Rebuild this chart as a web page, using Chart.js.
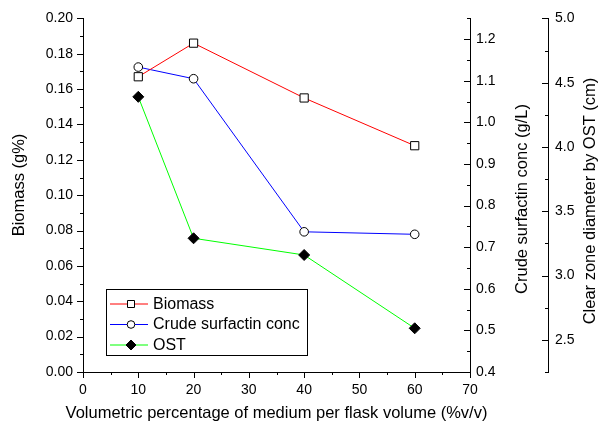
<!DOCTYPE html>
<html>
<head>
<meta charset="utf-8">
<script src="https://cdn.jsdelivr.net/npm/chart.js@4.4.0/dist/chart.umd.min.js"></script>
<style>
  body { margin: 0; background: #fff; }
</style>
</head>
<body>
<canvas id="myChart" width="601" height="424"></canvas>
<script>
// culture volume (% v/v) and the three measured responses
var volume = [10, 20, 40, 60];
var biomass = [0.167, 0.186, 0.155, 0.128];
var surfactin = [1.133, 1.105, 0.737, 0.731];
var ost = [4.39, 3.29, 3.16, 2.59];

var volumeTicks = [0, 10, 20, 30, 40, 50, 60, 70];
var biomassTicks = [0, 0.02, 0.04, 0.06, 0.08, 0.10, 0.12, 0.14, 0.16, 0.18, 0.20];
var surfactinTicks = [0.4, 0.5, 0.6, 0.7, 0.8, 0.9, 1.0, 1.1, 1.2];
var ostTicks = [2.5, 3.0, 3.5, 4.0, 4.5, 5.0];

var FONT = 'Liberation Sans, Arial, Helvetica, sans-serif';

function points(ys) {
    return volume.map(function (x, i) { return { x: x, y: ys[i] }; });
}

function fixTicks(list) {
    return function (scale) {
        scale.ticks = list.map(function (v) { return { value: v }; });
    };
}

function tickOpts(digits, pad) {
    return {
        color: '#000',
        font: { family: FONT, size: 14 },
        padding: pad,
        callback: function (v) { return Number(v).toFixed(digits); }
    };
}

// outward / inward major + minor ticks like the original plotting program
var minorTicks = {
    id: 'minorTicks',
    afterDraw: function (chart) {
        var ctx = chart.ctx;
        var defs = [
            { id: 'x', min: 0, max: 70, minor: 5, major: 10, dir: 'down' },
            { id: 'y', min: 0, max: 0.2, minor: 0.01, major: 0.02, dir: 'left' },
            { id: 'y1', min: 0.4, max: 1.25, minor: 0.05, major: 0.1, dir: 'left' },
            { id: 'y2', min: 2.25, max: 5.0, minor: 0.25, major: 0.5, dir: 'left' }
        ];
        ctx.save();
        ctx.strokeStyle = '#000';
        ctx.lineWidth = 1;
        defs.forEach(function (d) {
            var s = chart.scales[d.id];
            var n = Math.round((d.max - d.min) / d.minor);
            for (var i = 0; i <= n; i++) {
                var v = d.min + i * d.minor;
                var isMajor = Math.abs(v / d.major - Math.round(v / d.major)) < 1e-6;
                var len = isMajor ? 6 : 3;
                var p = Math.round(s.getPixelForValue(v)) + 0.5;
                ctx.beginPath();
                if (d.dir === 'down') {
                    var y0 = s.top;
                    ctx.moveTo(p, y0);
                    ctx.lineTo(p, y0 + len);
                } else {
                    var x0 = d.id === 'y' ? s.right : s.left;
                    ctx.moveTo(x0, p);
                    ctx.lineTo(x0 - len, p);
                }
                ctx.stroke();
            }
        });
        ctx.restore();
    }
};

// axis titles, all reading upward on the vertical axes
var axisTitles = {
    id: 'axisTitles',
    afterDraw: function (chart) {
        var ctx = chart.ctx;
        var a = chart.chartArea;
        ctx.save();
        ctx.fillStyle = '#000';
        ctx.font = '16.5px ' + FONT;
        ctx.textAlign = 'center';
        ctx.textBaseline = 'middle';
        ctx.fillText('Volumetric percentage of medium per flask volume (%v/v)', (a.left + a.right) / 2, 413);
        [['Biomass (g%)', 19, 185], ['Crude surfactin conc (g/L)', 522, 199], ['Clear zone diameter by OST (cm)', 590, 201]].forEach(function (t) {
            ctx.save();
            ctx.translate(t[1], t[2]);
            ctx.rotate(-Math.PI / 2);
            ctx.fillText(t[0], 0, 0);
            ctx.restore();
        });
        ctx.restore();
    }
};

// boxed legend in the lower left of the plot
var boxLegend = {
    id: 'boxLegend',
    afterDraw: function (chart) {
        var ctx = chart.ctx;
        var left = 106.5, top = 289.5, w = 201, h = 66;
        ctx.save();
        ctx.fillStyle = '#fff';
        ctx.fillRect(left, top, w, h);
        ctx.strokeStyle = '#000';
        ctx.lineWidth = 1;
        ctx.strokeRect(left, top, w, h);
        ctx.font = '16px ' + FONT;
        ctx.textBaseline = 'middle';
        chart.data.datasets.forEach(function (ds, i) {
            var y = top + 14.5 + i * 20.5;
            var cx = 131;
            ctx.strokeStyle = ds.borderColor;
            ctx.beginPath();
            ctx.moveTo(110, y);
            ctx.lineTo(148, y);
            ctx.stroke();
            ctx.strokeStyle = '#000';
            ctx.fillStyle = ds.pointBackgroundColor;
            ctx.beginPath();
            if (ds.pointStyle === 'rect') {
                ctx.rect(cx - 3.5, y - 3.5, 7, 7);
            } else if (ds.pointStyle === 'circle') {
                ctx.arc(cx, y, 3.8, 0, Math.PI * 2);
            } else {
                ctx.moveTo(cx, y - 5);
                ctx.lineTo(cx + 5, y);
                ctx.lineTo(cx, y + 5);
                ctx.lineTo(cx - 5, y);
                ctx.closePath();
            }
            ctx.fill();
            ctx.stroke();
            ctx.fillStyle = '#000';
            ctx.fillText(ds.label, 153, y + 0.5);
        });
        ctx.restore();
    }
};

var ctx = document.getElementById('myChart');
var myChart = new Chart(ctx, {
    type: 'line',
    data: {
        datasets: [{
            label: 'Biomass',
            data: points(biomass),
            yAxisID: 'y',
            borderColor: '#ff0000',
            borderWidth: 1,
            pointStyle: 'rect',
            pointRadius: 5.8,
            pointBackgroundColor: '#ffffff',
            pointBorderColor: '#000000',
            pointBorderWidth: 1
        }, {
            label: 'Crude surfactin conc',
            data: points(surfactin),
            yAxisID: 'y1',
            borderColor: '#0000ff',
            borderWidth: 1,
            pointStyle: 'circle',
            pointRadius: 4.3,
            pointBackgroundColor: '#ffffff',
            pointBorderColor: '#000000',
            pointBorderWidth: 1
        }, {
            label: 'OST',
            data: points(ost),
            yAxisID: 'y2',
            borderColor: '#00ff00',
            borderWidth: 1,
            pointStyle: 'rectRot',
            pointRadius: 5.5,
            pointBackgroundColor: '#000000',
            pointBorderColor: '#000000',
            pointBorderWidth: 1
        }]
    },
    options: {
        responsive: false,
        animation: false,
        layout: { padding: { top: 16, left: 0, right: 0, bottom: 0 } },
        plugins: {
            legend: { display: false },
            tooltip: { enabled: false }
        },
        scales: {
            x: {
                type: 'linear',
                position: 'bottom',
                min: 0,
                max: 70,
                afterBuildTicks: fixTicks(volumeTicks),
                afterFit: function (s) { s.height = 52; },
                ticks: tickOpts(0, 10),
                grid: { display: false, drawTicks: false },
                border: { color: '#000', width: 1 }
            },
            y: {
                position: 'left',
                min: 0,
                max: 0.2,
                afterBuildTicks: fixTicks(biomassTicks),
                afterFit: function (s) { s.width = 83; },
                ticks: tickOpts(2, 10),
                grid: { display: false, drawTicks: false },
                border: { color: '#000', width: 1 }
            },
            y1: {
                position: 'right',
                weight: 0,
                min: 0.4,
                max: 1.25,
                afterBuildTicks: fixTicks(surfactinTicks),
                afterFit: function (s) { s.width = 78; },
                ticks: tickOpts(1, 6),
                grid: { display: false, drawTicks: false },
                border: { color: '#000', width: 1 }
            },
            y2: {
                position: 'right',
                weight: 1,
                min: 2.25,
                max: 5.0,
                afterBuildTicks: fixTicks(ostTicks),
                afterFit: function (s) { s.width = 53; },
                ticks: tickOpts(1, 7),
                grid: { display: false, drawTicks: false },
                border: { color: '#000', width: 1 }
            }
        }
    },
    plugins: [minorTicks, axisTitles, boxLegend]
});
</script>
</body>
</html>
